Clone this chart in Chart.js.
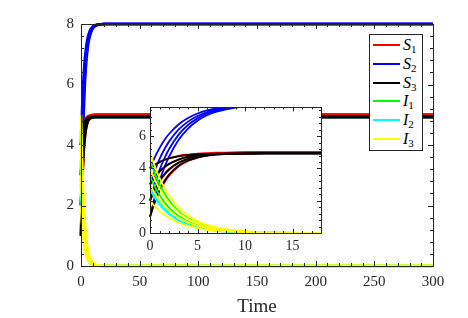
<!DOCTYPE html>
<html>
<head>
<meta charset="utf-8">
<script src="https://cdn.jsdelivr.net/npm/chart.js@4.4.0/dist/chart.umd.min.js"></script>
<style>
  html, body { margin: 0; padding: 0; background: #fff; }
  #wrap { position: relative; width: 468px; height: 318px; overflow: hidden; }
  #main { position: absolute; left: 0; top: 0; }
  #inset { position: absolute; left: 110px; top: 95px; }
  #legend {
    position: absolute; left: 369px; top: 34px; width: 54px; height: 117px;
    box-sizing: border-box; border: 1px solid #262626; background: #fff;
    font-family: 'Liberation Serif', serif; font-size: 16px; color: #000; padding-top: 1px;
  }
  .item { display: flex; align-items: center; height: 18.7px; }
  .swatch { width: 27px; height: 2px; margin: 0 3px 0 3px; }
  .lab i { font-style: italic; }
  .lab sub { font-size: 11px; vertical-align: -3px; line-height: 0; }
</style>
</head>
<body>
<div id="wrap">
  <canvas id="main" width="468" height="318"></canvas>
  <canvas id="inset" width="220" height="165"></canvas>
  <div id="legend"></div>
</div>
<script>
// sample times (same for every trajectory)
const tSamples = [0, 0.5, 1, 1.5, 2, 3, 4, 5, 6, 7, 8, 10, 12, 14, 16, 18, 20, 300];

// S1 -> 5
const S1 = [
  [1, 1.88, 2.57, 3.11, 3.53, 4.11, 4.46, 4.67, 4.80, 4.88, 4.93, 4.97, 4.99, 5, 5, 5, 5, 5],
  [2, 2.66, 3.18, 3.58, 3.90, 4.33, 4.59, 4.75, 4.85, 4.91, 4.95, 4.98, 4.99, 5, 5, 5, 5, 5],
  [3, 3.44, 3.79, 4.06, 4.26, 4.55, 4.73, 4.84, 4.90, 4.94, 4.96, 4.99, 5, 5, 5, 5, 5, 5],
  [4, 4.22, 4.39, 4.53, 4.63, 4.78, 4.86, 4.92, 4.95, 4.97, 4.98, 4.99, 5, 5, 5, 5, 5, 5]
];
// S2 -> 8
const S2 = [
  [1, 2.21, 3.21, 4.04, 4.72, 5.76, 6.47, 6.95, 7.29, 7.51, 7.66, 7.85, 7.93, 7.97, 7.98, 7.99, 8, 8],
  [2, 3.04, 3.90, 4.60, 5.19, 6.08, 6.69, 7.10, 7.39, 7.58, 7.71, 7.87, 7.94, 7.97, 7.99, 7.99, 8, 8],
  [3, 3.86, 4.58, 5.17, 5.66, 6.40, 6.90, 7.25, 7.49, 7.65, 7.76, 7.89, 7.95, 7.98, 7.99, 7.99, 8, 8],
  [4, 4.69, 5.26, 5.74, 6.13, 6.72, 7.12, 7.40, 7.59, 7.72, 7.81, 7.91, 7.96, 7.98, 7.99, 8, 8, 8]
];
// S3 -> 4.93
const S3 = [
  [1, 1.94, 2.66, 3.20, 3.62, 4.17, 4.49, 4.67, 4.79, 4.85, 4.88, 4.91, 4.93, 4.93, 4.93, 4.93, 4.93, 4.93],
  [2, 2.70, 3.24, 3.64, 3.95, 4.36, 4.60, 4.74, 4.82, 4.87, 4.90, 4.92, 4.93, 4.93, 4.93, 4.93, 4.93, 4.93],
  [3, 3.46, 3.81, 4.08, 4.28, 4.55, 4.72, 4.80, 4.86, 4.89, 4.91, 4.92, 4.93, 4.93, 4.93, 4.93, 4.93, 4.93],
  [4, 4.22, 4.39, 4.52, 4.62, 4.75, 4.83, 4.87, 4.90, 4.91, 4.92, 4.93, 4.93, 4.93, 4.93, 4.93, 4.93, 4.93]
];
// I1 -> 0
const I1 = [
  [4.5, 3.69, 3.02, 2.47, 2.02, 1.35, 0.91, 0.61, 0.41, 0.27, 0.18, 0.08, 0.04, 0.02, 0.01, 0, 0, 0],
  [3.5, 2.87, 2.35, 1.92, 1.57, 1.05, 0.71, 0.47, 0.32, 0.21, 0.14, 0.06, 0.03, 0.01, 0.01, 0, 0, 0]
];
// I2 -> 0
const I2 = [
  [2.9, 2.35, 1.91, 1.55, 1.25, 0.82, 0.54, 0.35, 0.23, 0.15, 0.10, 0.04, 0.02, 0.01, 0, 0, 0, 0],
  [2.7, 2.19, 1.77, 1.44, 1.17, 0.77, 0.50, 0.33, 0.22, 0.14, 0.09, 0.04, 0.02, 0.01, 0, 0, 0, 0]
];
// I3 -> 0
const I3 = [
  [5, 4.13, 3.42, 2.83, 2.34, 1.60, 1.10, 0.75, 0.51, 0.35, 0.24, 0.11, 0.05, 0.02, 0.01, 0.01, 0, 0],
  [4, 3.31, 2.74, 2.26, 1.87, 1.28, 0.88, 0.60, 0.41, 0.28, 0.19, 0.09, 0.04, 0.02, 0.01, 0, 0, 0],
  [3, 2.48, 2.05, 1.70, 1.40, 0.96, 0.66, 0.45, 0.31, 0.21, 0.14, 0.07, 0.03, 0.01, 0.01, 0, 0, 0],
  [2, 1.65, 1.37, 1.13, 0.94, 0.64, 0.44, 0.30, 0.20, 0.14, 0.10, 0.04, 0.02, 0.01, 0, 0, 0, 0]
];

const seriesNames = ['S1', 'S2', 'S3', 'I1', 'I2', 'I3'];
const seriesData = [S1, S2, S3, I1, I2, I3];
const seriesColors = ['#ff0000', '#0000ff', '#000000', '#00ff00', '#00ffff', '#ffff00'];
const drawOrder = [4, 5, 3, 2, 1, 0]; // lower = on top

const axisColor = '#262626';
const serif = "'Liberation Serif', 'DejaVu Serif', serif";

function buildDatasets(width) {
  const out = [];
  seriesData.forEach((trajs, i) => {
    trajs.forEach(traj => {
      out.push({
        label: seriesNames[i],
        data: traj.map((v, k) => ({ x: tSamples[k], y: v })),
        borderColor: seriesColors[i],
        borderWidth: width,
        pointRadius: 0,
        fill: false,
        cubicInterpolationMode: 'monotone',
        order: drawOrder[i]
      });
    });
  });
  return out;
}

// box + inward major/minor ticks on all four sides (matlab look)
const boxTicks = {
  id: 'boxTicks',
  beforeDatasetsDraw(chart, args, opts) {
    if (!opts.fill) return;
    const a = chart.chartArea;
    chart.ctx.save();
    chart.ctx.fillStyle = '#fff';
    chart.ctx.fillRect(a.left, a.top, a.right - a.left, a.bottom - a.top);
    chart.ctx.restore();
  },
  afterDatasetsDraw(chart, args, opts) {
    const { ctx, chartArea: a, scales: { x, y } } = chart;
    ctx.save();
    ctx.strokeStyle = axisColor;
    ctx.lineWidth = 1;
    ctx.beginPath();
    const nx = Math.round((x.max - x.min) / opts.xMinor);
    for (let k = 0; k <= nx; k++) {
      const v = x.min + k * opts.xMinor;
      const major = k % opts.xPer === 0;
      const len = major ? opts.major : opts.minor;
      const px = Math.round(x.getPixelForValue(v)) + 0.5;
      ctx.moveTo(px, a.bottom); ctx.lineTo(px, a.bottom - len);
      ctx.moveTo(px, a.top); ctx.lineTo(px, a.top + len);
    }
    const ny = Math.floor((y.max - y.min) / opts.yMinor + 1e-6);
    for (let k = 0; k <= ny; k++) {
      const v = y.min + k * opts.yMinor;
      const major = k % opts.yPer === 0;
      const len = major ? opts.major : opts.minor;
      const py = Math.round(y.getPixelForValue(v)) + 0.5;
      ctx.moveTo(a.left, py); ctx.lineTo(a.left + len, py);
      ctx.moveTo(a.right, py); ctx.lineTo(a.right - len, py);
    }
    ctx.stroke();
    ctx.strokeRect(Math.round(a.left) + 0.5, Math.round(a.top) + 0.5,
      Math.round(a.right - a.left), Math.round(a.bottom - a.top));
    ctx.restore();
  }
};

new Chart(document.getElementById('main'), {
  type: 'line',
  data: { datasets: buildDatasets(2.6).map(d => ({ ...d, clip: 3 })) },
  options: {
    responsive: false,
    animation: false,
    layout: { padding: { left: 0, top: 24, right: 35, bottom: 0 } },
    plugins: {
      legend: { display: false },
      tooltip: { enabled: false },
      boxTicks: { xMinor: 10, xPer: 5, yMinor: 0.4, yPer: 5, major: 5, minor: 3 }
    },
    scales: {
      x: {
        type: 'linear', min: 0, max: 300,
        grid: { display: false, drawTicks: false },
        border: { display: false },
        ticks: { stepSize: 50, padding: 7, color: axisColor, font: { family: serif, size: 15 } },
        title: { display: true, text: 'Time', color: axisColor, font: { family: serif, size: 19 }, padding: { top: 0, bottom: 0 } },
        afterFit(s) { s.height = 52; }
      },
      y: {
        type: 'linear', min: 0, max: 8,
        grid: { display: false, drawTicks: false },
        border: { display: false },
        ticks: { stepSize: 2, padding: 7, color: axisColor, font: { family: serif, size: 15 } },
        afterFit(s) { s.width = 81; }
      }
    }
  },
  plugins: [boxTicks]
});

new Chart(document.getElementById('inset'), {
  type: 'line',
  data: { datasets: buildDatasets(1.8).map(d => ({ ...d, clip: { left: 2, top: 0, right: 0, bottom: 2 } })) },
  options: {
    responsive: false,
    animation: false,
    layout: { padding: { left: 0, top: 7, right: 9, bottom: 0 } },
    plugins: {
      legend: { display: false },
      tooltip: { enabled: false },
      boxTicks: { fill: true, xMinor: 1, xPer: 5, yMinor: 0.4, yPer: 5, major: 4, minor: 2 }
    },
    scales: {
      x: {
        type: 'linear', min: 0, max: 18,
        grid: { display: false, drawTicks: false },
        border: { display: false },
        ticks: { stepSize: 5, includeBounds: false, padding: 5, color: axisColor, font: { family: serif, size: 14 } },
        afterFit(s) { s.height = 27; }
      },
      y: {
        type: 'linear', min: 0, max: 7.78,
        grid: { display: false, drawTicks: false },
        border: { display: false },
        ticks: { stepSize: 2, includeBounds: false, padding: 4, color: axisColor, font: { family: serif, size: 14 } },
        afterFit(s) { s.width = 40; }
      }
    }
  },
  plugins: [boxTicks]
});

// legend: one entry per series
const legend = document.getElementById('legend');
seriesNames.forEach((name, i) => {
  const row = document.createElement('div');
  row.className = 'item';
  row.innerHTML = '<span class="swatch" style="background:' + seriesColors[i] + '"></span>' +
    '<span class="lab"><i>' + name[0] + '</i><sub>' + name.slice(1) + '</sub></span>';
  legend.appendChild(row);
});
</script>
</body>
</html>
